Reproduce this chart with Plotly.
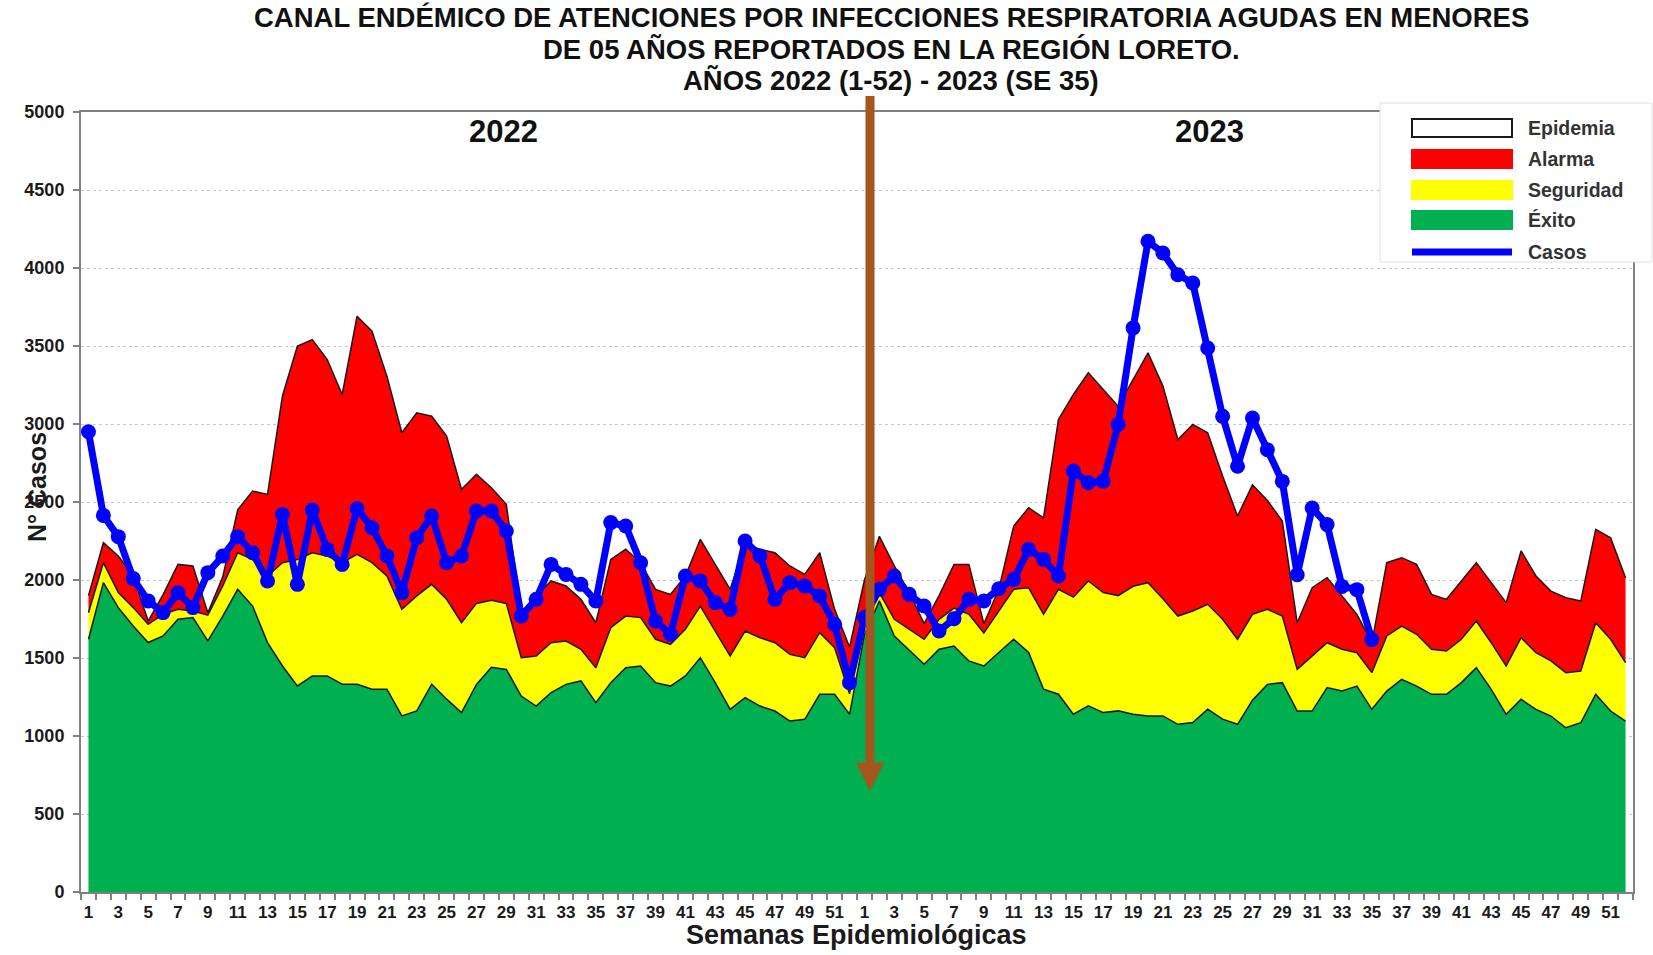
"""
Canal endémico IRA < 5 años, Loreto 2022-2023.
"""

import plotly.graph_objects as go

# ── Data ──────────────────────────────────────────────────────────────────────

semanas_2022 = list(range(1, 53))
semanas_2023 = list(range(1, 53))

# upper limit of each zone (cases)
exito_2022 = [1620, 1983, 1823, 1705, 1599, 1641, 1748, 1759, 1610, 1769,
              1940, 1833, 1599, 1449, 1321, 1385, 1385, 1332, 1332, 1300,
              1300, 1129, 1161, 1332, 1236, 1150, 1330, 1440, 1427, 1256,
              1192, 1278, 1331, 1353, 1214, 1342, 1438, 1449, 1342, 1320,
              1385, 1502, 1342, 1171, 1246, 1192, 1160, 1096, 1107, 1267,
              1267, 1139]
seguridad_2022 = [1790, 2111, 1919, 1823, 1716, 1780, 1812, 1801, 1775, 1962,
                  2175, 2132, 2026, 2111, 2132, 2175, 2154, 2111, 2164, 2111,
                  2026, 1812, 1898, 1972, 1876, 1727, 1850, 1870, 1850, 1502,
                  1513, 1598, 1609, 1556, 1438, 1694, 1769, 1759, 1620, 1588,
                  1684, 1833, 1673, 1513, 1673, 1630, 1598, 1523, 1502, 1662,
                  1566, 1270]
alarma_2022 = [1900, 2239, 2154, 2026, 1737, 1906, 2100, 2090, 1790, 2020,
               2450, 2570, 2549, 3180, 3499, 3541, 3413, 3189, 3691, 3595,
               3307, 2944, 3072, 3050, 2922, 2581, 2677, 2591, 2485, 1790,
               1897, 1994, 1962, 1876, 1726, 2132, 2197, 2111, 1940, 1908,
               2026, 2261, 2100, 1940, 2229, 2197, 2175, 2090, 2036, 2175,
               1812, 1570]
casos_2022 = [2950, 2414, 2278, 2009, 1866, 1791, 1919, 1823, 2047, 2154,
              2278, 2175, 1994, 2420, 1972, 2448, 2196, 2100, 2457, 2335,
              2154, 1919, 2271, 2410, 2111, 2154, 2442, 2442, 2314, 1769,
              1876, 2100, 2036, 1972, 1865, 2368, 2346, 2111, 1737, 1652,
              2026, 1994, 1855, 1812, 2250, 2154, 1876, 1983, 1962, 1897,
              1716, 1342]

exito_2023 = [1650, 1866, 1641, 1550, 1460, 1556, 1577, 1481, 1449, 1535,
              1620, 1535, 1300, 1268, 1140, 1193, 1150, 1161, 1140, 1129,
              1129, 1075, 1086, 1172, 1108, 1075, 1230, 1331, 1342, 1160,
              1160, 1310, 1288, 1320, 1171, 1288, 1363, 1320, 1267, 1267,
              1342, 1438, 1299, 1139, 1235, 1171, 1128, 1053, 1085, 1267,
              1160, 1096]
seguridad_2023 = [1800, 1919, 1748, 1684, 1620, 1748, 1820, 1780, 1660, 1800,
                  1940, 1950, 1780, 1940, 1890, 1994, 1920, 1900, 1960, 1983,
                  1880, 1769, 1801, 1844, 1748, 1620, 1780, 1812, 1769, 1427,
                  1513, 1598, 1556, 1534, 1406, 1641, 1705, 1652, 1556, 1545,
                  1620, 1737, 1598, 1449, 1630, 1534, 1481, 1406, 1417, 1726,
                  1620, 1470]
alarma_2023 = [2000, 2280, 2090, 1919, 1720, 1900, 2100, 2100, 1720, 1940,
               2346, 2463, 2399, 3029, 3189, 3328, 3221, 3114, 3285, 3456,
               3243, 2901, 2997, 2944, 2666, 2410, 2610, 2510, 2378, 1726,
               1951, 2015, 1897, 1780, 1598, 2111, 2143, 2100, 1908, 1876,
               1994, 2111, 1983, 1855, 2186, 2026, 1929, 1887, 1865, 2325,
               2271, 2015]
casos_2023 = [1760, 1940, 2026, 1908, 1833, 1673, 1752, 1876, 1865, 1944,
              2004, 2196, 2132, 2026, 2698, 2623, 2634, 2997, 3616, 4171,
              4096, 3957, 3904, 3487, 3049, 2729, 3038, 2835, 2632, 2034,
              2462, 2355, 1959, 1938, 1618]  # hasta SE 35

# ── Style ─────────────────────────────────────────────────────────────────────

W, H = 1653, 955
PLOT_X0, PLOT_X1, PLOT_Y0, PLOT_Y1 = 81, 1633, 112, 892   # plot area, pixels
M_L, M_T = PLOT_X0, PLOT_Y0
M_R, M_B = W - PLOT_X1, H - PLOT_Y1
PLOT_W = PLOT_X1 - PLOT_X0
PLOT_H = PLOT_Y1 - PLOT_Y0

FONT = "Liberation Sans, Arial, sans-serif"
NARROW = "Liberation Sans Narrow, Arial Narrow, Liberation Sans, Arial, sans-serif"
GREEN, YELLOW, RED, BLUE = "#00b050", "#ffff00", "#ff0000", "#0000ff"
EDGE = "#1a1a1a"
FRAME = "#808080"
ARROW = "#a4561f"


def px_x(px):
    return (px - PLOT_X0) / PLOT_W


def px_y(py):
    return (PLOT_Y1 - py) / PLOT_H


# ── Build ─────────────────────────────────────────────────────────────────────

labels = [str(s) for s in semanas_2022 + semanas_2023]
x = list(range(1, len(labels) + 1))
exito = exito_2022 + exito_2023
seguridad = seguridad_2022 + seguridad_2023
alarma = alarma_2022 + alarma_2023
casos = casos_2022 + casos_2023 + [None] * (len(semanas_2023) - len(casos_2023))

fig = go.Figure()
edge = dict(color=EDGE, width=1.5)
fig.add_trace(go.Scatter(x=x, y=exito, name="Éxito", mode="lines",
                         line=edge, fill="tozeroy", fillcolor=GREEN))
fig.add_trace(go.Scatter(x=x, y=seguridad, name="Seguridad", mode="lines",
                         line=edge, fill="tonexty", fillcolor=YELLOW))
fig.add_trace(go.Scatter(x=x, y=alarma, name="Alarma", mode="lines",
                         line=edge, fill="tonexty", fillcolor=RED))
fig.add_trace(go.Scatter(x=x, y=casos, name="Casos", mode="lines+markers",
                         line=dict(color=BLUE, width=7),
                         marker=dict(color=BLUE, size=15),
                         connectgaps=False))

fig.update_traces(showlegend=False, hoverinfo="x+y")

odd = [i for i in x if i % 2 == 1]
fig.update_xaxes(
    range=[0.5, len(x) + 0.5],
    tickmode="array", tickvals=odd, ticktext=[labels[i - 1] for i in odd],
    ticks="", showgrid=False, zeroline=False,
    tickfont=dict(family=NARROW, size=17, color="#1a1a1a", weight="bold"),
    ticklabelstandoff=4,
    minor=dict(tickmode="array", tickvals=[i - 0.5 for i in x] + [len(x) + 0.5],
               ticks="outside", ticklen=6, tickwidth=1.5, tickcolor=FRAME,
               showgrid=False),
    showline=True, linecolor=FRAME, linewidth=2, mirror=True,
)
fig.update_yaxes(
    range=[0, 5000], dtick=500, tick0=0,
    ticks="outside", ticklen=6, tickwidth=1.5, tickcolor=FRAME,
    tickfont=dict(family=FONT, size=18, color="#1a1a1a", weight="bold"),
    ticklabelstandoff=5,
    showgrid=True, gridcolor="#c8c8c8", gridwidth=1, griddash="3px,3px",
    zeroline=False,
    showline=True, linecolor=FRAME, linewidth=2, mirror=True,
)

# title (three lines, tighter than plotly's default line spacing)
title_lines = [
    "CANAL ENDÉMICO DE ATENCIONES POR INFECCIONES RESPIRATORIA AGUDAS EN MENORES",
    "DE 05 AÑOS REPORTADOS EN LA REGIÓN LORETO.",
    "AÑOS 2022 (1-52) - 2023 (SE 35)",
]
annotations = []
for text, py in zip(title_lines, [18, 49.5, 81]):
    annotations.append(dict(
        text=text, xref="paper", yref="paper", x=px_x(891), y=px_y(py),
        xanchor="center", yanchor="middle", showarrow=False,
        font=dict(family=FONT, size=27.5, color="#111111", weight="bold"),
    ))

# year labels
for text, px in [("2022", 504), ("2023", 1209)]:
    annotations.append(dict(
        text=text, xref="paper", yref="paper", x=px_x(px), y=px_y(131),
        xanchor="center", yanchor="middle", showarrow=False,
        font=dict(family=FONT, size=31, color="#111111", weight="bold"),
    ))

# axis titles
annotations.append(dict(
    text="Semanas Epidemiológicas", xref="paper", yref="paper",
    x=px_x(856), y=px_y(935), xanchor="center", yanchor="middle",
    showarrow=False,
    font=dict(family=FONT, size=27, color="#1a1a1a", weight="bold"),
))
annotations.append(dict(
    text="N° Casos", xref="paper", yref="paper",
    x=px_x(37), y=px_y(487), xanchor="center", yanchor="middle",
    textangle=-90, showarrow=False,
    font=dict(family=FONT, size=25, color="#1a1a1a", weight="bold"),
))

# manual legend
shapes = [dict(type="rect", xref="paper", yref="paper", layer="above",
               x0=px_x(1380), x1=px_x(1652), y0=px_y(262), y1=px_y(103),
               fillcolor="white", line=dict(color="#e0e0e0", width=1))]
legend_rows = [
    ("Epidemia", 128, dict(fill="white", line=EDGE)),
    ("Alarma", 159, dict(fill=RED, line=RED)),
    ("Seguridad", 190, dict(fill=YELLOW, line=YELLOW)),
    ("Éxito", 220, dict(fill=GREEN, line=GREEN)),
]
for text, py, sty in legend_rows:
    shapes.append(dict(type="rect", xref="paper", yref="paper", layer="above",
                       x0=px_x(1412), x1=px_x(1512),
                       y0=px_y(py + 9), y1=px_y(py - 9),
                       fillcolor=sty["fill"], line=dict(color=sty["line"], width=2)))
    annotations.append(dict(
        text=text, xref="paper", yref="paper", x=px_x(1526), y=px_y(py),
        xanchor="left", yanchor="middle", showarrow=False,
        font=dict(family=FONT, size=19.5, color="#333333", weight="bold"),
    ))
shapes.append(dict(type="line", xref="paper", yref="paper", layer="above",
                   x0=px_x(1412), x1=px_x(1512), y0=px_y(252), y1=px_y(252),
                   line=dict(color=BLUE, width=7)))
annotations.append(dict(
    text="Casos", xref="paper", yref="paper", x=px_x(1526), y=px_y(252),
    xanchor="left", yanchor="middle", showarrow=False,
    font=dict(family=FONT, size=19.5, color="#333333", weight="bold"),
))

# brown arrow separating the years
ax = px_x(870)
shapes.append(dict(type="line", xref="paper", yref="paper", layer="above",
                   x0=ax, x1=ax, y0=px_y(96), y1=px_y(766),
                   line=dict(color=ARROW, width=9)))
hw = 13.5 / PLOT_W
shapes.append(dict(type="path", xref="paper", yref="paper", layer="above",
                   path=f"M {ax - hw},{px_y(763)} L {ax + hw},{px_y(763)} "
                        f"L {ax},{px_y(790)} Z",
                   fillcolor=ARROW, line=dict(color=ARROW, width=1)))

fig.update_layout(
    width=W, height=H,
    margin=dict(l=M_L, r=M_R, t=M_T, b=M_B),
    plot_bgcolor="white", paper_bgcolor="white",
    font=dict(family=FONT),
    showlegend=False,
    shapes=shapes, annotations=annotations,
)

# drop the default 8px page margin so the figure fills the window exactly
fig.write_html("out.html", config={"displayModeBar": False},
               post_script="document.body.style.margin = '0';")
